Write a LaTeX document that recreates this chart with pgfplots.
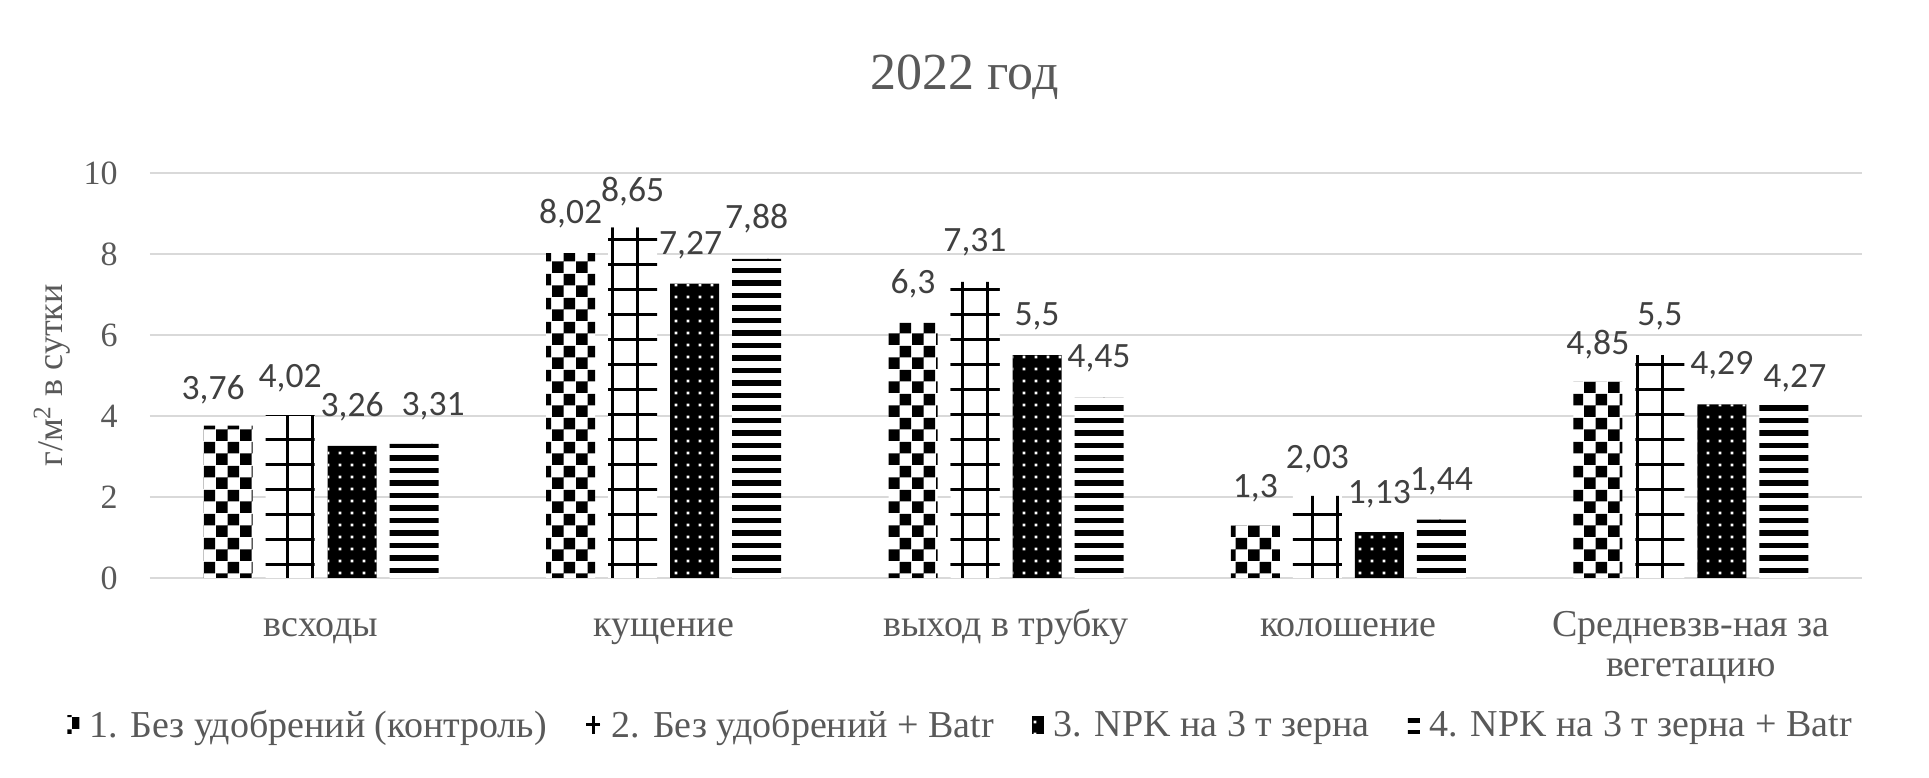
\documentclass[border=0pt]{standalone}
\usepackage{fontspec}
\setmainfont{Liberation Serif}
\newfontfamily\carlito{Carlito}
\usepackage{pgfplots}
\usepackage{pgfplotstable}
\pgfplotsset{compat=1.18}
\usetikzlibrary{patterns}
\definecolor{txtgray}{HTML}{595959}
\definecolor{lblgray}{HTML}{404040}
\definecolor{gridgray}{HTML}{D9D9D9}

% excel-like fill patterns (bbox a bit larger than the step so tiles overlap, no seams)
\pgfdeclarepatternformonly{xlcheck}{\pgfqpoint{0pt}{0pt}}{\pgfqpoint{12pt}{12pt}}{\pgfqpoint{12pt}{12pt}}{%
  \pgfpathrectangle{\pgfqpoint{0pt}{0pt}}{\pgfqpoint{6pt}{6pt}}%
  \pgfpathrectangle{\pgfqpoint{6pt}{6pt}}{\pgfqpoint{6pt}{6pt}}%
  \pgfusepath{fill}}
\pgfdeclarepatternformonly{xlgrid}{\pgfqpoint{-0.5pt}{-0.5pt}}{\pgfqpoint{13pt}{13pt}}{\pgfqpoint{12.5pt}{12.5pt}}{%
  \pgfsetlinewidth{1.5pt}%
  \pgfpathmoveto{\pgfqpoint{-0.5pt}{6.25pt}}\pgfpathlineto{\pgfqpoint{13pt}{6.25pt}}%
  \pgfpathmoveto{\pgfqpoint{6.25pt}{-0.5pt}}\pgfpathlineto{\pgfqpoint{6.25pt}{13pt}}%
  \pgfusepath{stroke}}
\pgfdeclarepatternformonly{xldots}{\pgfqpoint{0pt}{0pt}}{\pgfqpoint{6.2pt}{6.2pt}}{\pgfqpoint{6.2pt}{6.2pt}}{%
  \pgfpathrectangle{\pgfqpoint{2.4pt}{2.4pt}}{\pgfqpoint{1.4pt}{1.4pt}}%
  \pgfusepath{fill}}
\pgfdeclarepatternformonly{xlhlines}{\pgfqpoint{-0.5pt}{0pt}}{\pgfqpoint{24.5pt}{6.25pt}}{\pgfqpoint{24pt}{6.25pt}}{%
  \pgfpathrectangle{\pgfqpoint{-0.5pt}{1.8pt}}{\pgfqpoint{25pt}{2.7pt}}%
  \pgfusepath{fill}}

% x, value, label, label shifts (pt)
\pgfplotstableread{
x y lab dx dy
0 3.76 3,76 -7.5 13.3
1 8.02 8,02 0 14.8
2 6.3 6,3 0 14.8
3 1.3 1,3 0 13.8
4 4.85 4,85 0 13.3
}\serA
\pgfplotstableread{
x y lab dx dy
0 4.02 4,02 0 13.8
1 8.65 8,65 0 13.3
2 7.31 7,31 0 15.3
3 2.03 2,03 0 13.8
4 5.5 5,5 0 14.8
}\serB
\pgfplotstableread{
x y lab dx dy
0 3.26 3,26 0 14.8
1 7.27 7,27 -2 14.3
2 5.5 5,5 0 14.8
3 1.13 1,13 0 14.3
4 4.29 4,29 0 14.8
}\serC
\pgfplotstableread{
x y lab dx dy
0 3.31 3,31 9.5 14.3
1 7.88 7,88 0 15.3
2 4.45 4,45 0 15.3
3 1.44 1,44 0 14.8
4 4.27 4,27 5.5 8.8
}\serD

\newcommand{\lblfont}{\fontsize{19}{20}\selectfont}

\begin{document}
\begin{tikzpicture}
\useasboundingbox (0,0) rectangle (964.5pt,388.5pt);
\begin{axis}[
    at={(75pt,99.5pt)}, anchor=south west,
    scale only axis,
    width=856pt, height=202.5pt,
    ybar, bar width=24.5pt,
    xmin=-0.5, xmax=4.5,
    ymin=0, ymax=10,
    ytick={0,2,...,10},
    xtick={0,1,2,3,4},
    xticklabels={всходы,кущение,выход в трубку,колошение,{\begin{tabular}[t]{@{}c@{}}Средневзв-ная за\\вегетацию\end{tabular}}},
    major tick length=0pt,
    axis line style={draw=none},
    ymajorgrids, grid style={gridgray, line width=1pt},
    clip=false,
    /pgf/number format/assume math mode=true,
    tick label style={font=\lblfont, text=txtgray},
    yticklabel style={font=\fontsize{17}{20}\selectfont, inner sep=0pt, anchor=east, xshift=-16pt},
    xticklabel style={inner sep=0pt, anchor=base, yshift=-29.5pt},
    title={2022 год},
    title style={font=\fontsize{26}{28}\selectfont, text=txtgray, anchor=base, at={(0.4758,1)}, yshift=35.5pt},
    ylabel={г/м\textsuperscript{2} в сутки},
    ylabel style={font=\fontsize{18}{20}\selectfont, text=txtgray, anchor=center, at={(axis description cs:-0.0572,0.5)}},
    legend style={at={(0.4758,-0.365)}, anchor=center, draw=none, legend columns=4,
        font=\lblfont, text=txtgray,
        nodes={inner xsep=5pt},
        /tikz/every even column/.append style={column sep=14pt}},
    legend image code/.code={\draw[#1, draw=none] (0pt,-4pt) rectangle (6pt,5pt);},
    nodes near coords,
    point meta=explicit symbolic,
    visualization depends on={\thisrow{dx} \as \dx},
    visualization depends on={\thisrow{dy} \as \dy},
    nodes near coords style={font=\carlito\fontsize{17.8}{19}\selectfont, text=lblgray,
        anchor=base, inner sep=0pt, xshift=\dx pt, yshift=\dy pt},
]
\addplot[bar shift=-46.5pt, draw=none, fill=white, postaction={pattern=xlcheck, pattern color=black}]
    table[x=x, y=y, meta=lab] {\serA};
\addlegendentry{1. Без удобрений (контроль)}
\addplot[bar shift=-15.5pt, draw=none, fill=white, postaction={pattern=xlgrid, pattern color=black},
    legend image code/.code={\draw[black, line width=1.5pt] (3pt,-4pt) -- (3pt,5pt) (-0.5pt,0.5pt) -- (6.5pt,0.5pt);}]
    table[x=x, y=y, meta=lab] {\serB};
\addlegendentry{2. Без удобрений + Batr}
\addplot[bar shift=15.5pt, draw=none, fill=black, postaction={pattern=xldots, pattern color=white}]
    table[x=x, y=y, meta=lab] {\serC};
\addlegendentry{3. NPK на 3 т зерна}
\addplot[bar shift=46.5pt, draw=none, fill=white, postaction={pattern=xlhlines, pattern color=black}]
    table[x=x, y=y, meta=lab] {\serD};
\addlegendentry{4. NPK на 3 т зерна + Batr}
\end{axis}
\end{tikzpicture}
\end{document}
